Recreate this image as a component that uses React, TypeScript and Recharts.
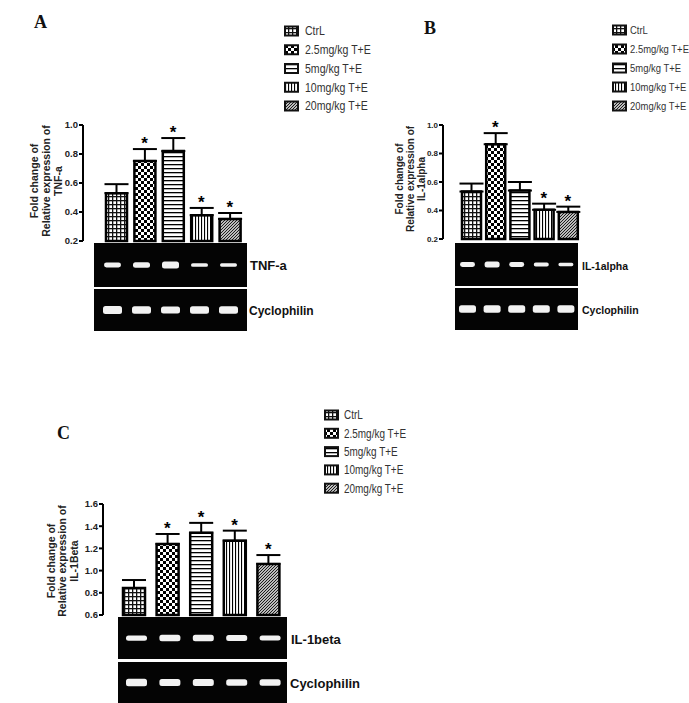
import React from 'react';
import { ComposedChart, BarChart, Bar, Line, XAxis, YAxis, ErrorBar, Cell } from 'recharts';

const groups = ['CtrL', '2.5mg/kg T+E', '5mg/kg T+E', '10mg/kg T+E', '20mg/kg T+E'];
const patternIds = ['pCtrl', 'p25', 'p5', 'p10', 'p20'];

const tnfMean = [0.53, 0.752, 0.82, 0.378, 0.352];
const tnfErr = [0.062, 0.082, 0.09, 0.05, 0.041];
const tnfSig = [false, true, true, true, true];
const tnfTicks = [0.2, 0.4, 0.6, 0.8, 1.0];

const il1aMean = [0.533, 0.865, 0.54, 0.405, 0.39];
const il1aErr = [0.056, 0.078, 0.06, 0.043, 0.037];
const il1aSig = [false, true, false, true, true];
const il1aTicks = [0.2, 0.4, 0.6, 0.8, 1.0];

const il1bMean = [0.843, 1.24, 1.34, 1.27, 1.06];
const il1bErr = [0.072, 0.09, 0.09, 0.09, 0.08];
const il1bSig = [false, true, true, true, true];
const il1bTicks = [0.6, 0.8, 1.0, 1.2, 1.4, 1.6];

// gel band intensities (relative band thickness)
const tnfBand = [0.45, 0.52, 0.65, 0.34, 0.3];
const tnfCyc = [0.75, 0.72, 0.68, 0.72, 0.7];
const il1aBand = [0.45, 0.55, 0.45, 0.36, 0.32];
const il1aCyc = [0.72, 0.7, 0.7, 0.7, 0.7];
const il1bBand = [0.5, 0.6, 0.62, 0.55, 0.48];
const il1bCyc = [0.72, 0.68, 0.68, 0.65, 0.65];

const SANS = "'Liberation Sans', Arial, sans-serif";
const SERIF = "'Liberation Serif', 'Times New Roman', serif";

function Patterns() {
  return (
    <svg width={0} height={0} style={{ position: 'absolute' }}>
      <defs>
        <pattern id="pCtrl" width={4} height={4} patternUnits="userSpaceOnUse">
          <rect width={4} height={4} fill="#fff" />
          <rect width={4} height={1.3} fill="#111" />
          <rect width={1.3} height={4} fill="#111" />
        </pattern>
        <pattern id="p25" width={6} height={6} patternUnits="userSpaceOnUse">
          <rect width={6} height={6} fill="#fff" />
          <rect width={3} height={3} fill="#000" />
          <rect x={3} y={3} width={3} height={3} fill="#000" />
        </pattern>
        <pattern id="p5" width={4} height={4} patternUnits="userSpaceOnUse">
          <rect width={4} height={4} fill="#fff" />
          <rect width={4} height={1.3} fill="#000" />
        </pattern>
        <pattern id="p10" width={3} height={3} patternUnits="userSpaceOnUse">
          <rect width={3} height={3} fill="#fff" />
          <rect width={1.1} height={3} fill="#000" />
        </pattern>
        <pattern id="p20" width={3} height={3} patternUnits="userSpaceOnUse">
          <rect width={3} height={3} fill="#fff" />
          <path d="M0,3 L3,0 M-1,1 L1,-1 M2,4 L4,2" stroke="#111" strokeWidth={1.1} />
        </pattern>
      </defs>
    </svg>
  );
}

const renderStar = (props: any) => {
  const { cx, cy, value, index } = props;
  if (value == null || cy == null || isNaN(cy)) return <g key={`s${index}`} />;
  return (
    <text key={`s${index}`} x={cx} y={cy} textAnchor="middle" fontSize={17} fontWeight="bold" fontFamily={SANS} fill="#000">
      *
    </text>
  );
};

function Panel(p: any) {
  const data = p.mean.map((m: number, i: number) => ({
    name: groups[i],
    mean: m,
    errRange: [0, p.err[i]],
    star: p.sig[i] ? m + p.err[i] : null,
  }));
  return (
    <div style={{ position: 'absolute', left: p.left, top: p.top }}>
      <ComposedChart width={p.width} height={p.height} data={data} margin={p.margin}>
        <XAxis dataKey="name" hide padding={{ left: p.padLeft, right: 0 }} />
        <YAxis
          type="number"
          domain={[p.ticks[0], p.ticks[p.ticks.length - 1]]}
          ticks={p.ticks}
          interval={0}
          width={40}
          tickFormatter={(v: number) => v.toFixed(1)}
          axisLine={{ stroke: '#000', strokeWidth: 2 }}
          tickLine={{ stroke: '#000', strokeWidth: 2 }}
          tickSize={4}
          tickMargin={1}
          tick={{ fontSize: p.tickFont, fontWeight: 'bold', fill: '#222', fontFamily: SANS }}
        />
        <Bar dataKey="mean" barSize={p.barSize} stroke="#000" strokeWidth={2.5} isAnimationActive={false}>
          {data.map((d: any, i: number) => (
            <Cell key={i} fill={`url(#${patternIds[i]})`} />
          ))}
          <ErrorBar dataKey="errRange" direction="y" width={12} strokeWidth={2} stroke="#000" />
        </Bar>
        <Line dataKey="star" stroke="none" dot={renderStar} activeDot={false} isAnimationActive={false} legendType="none" />
      </ComposedChart>
    </div>
  );
}

function Gel(p: any) {
  const data = p.bands.map((v: number, i: number) => ({ name: groups[i], band: [-v, v] }));
  return (
    <div style={{ position: 'absolute', left: p.left, top: p.top, width: p.width, height: p.height, background: '#040404' }}>
      <BarChart width={p.width} height={p.height} data={data} margin={{ top: 0, bottom: 0, left: p.ml, right: p.mr }}>
        <XAxis dataKey="name" hide />
        <YAxis hide type="number" domain={[-4, 4]} />
        <Bar dataKey="band" barSize={p.bandSize} fill="#f2f2f2" radius={2.5} isAnimationActive={false} />
      </BarChart>
    </div>
  );
}

function LegendBlock({ x, y0, gap, fs, sx, dx }: any) {
  return (
    <g>
      {groups.map((g, i) => {
        const cy = y0 + i * gap;
        return (
          <g key={g}>
            <rect x={x} y={cy - 4.5} width={13} height={9} fill={`url(#${patternIds[i]})`} stroke="#111" strokeWidth={2} />
            <text transform={`translate(${x + 13 + dx}, ${cy + fs * 0.36}) scale(${sx},1)`} fontSize={fs} fontFamily={SANS} fill="#333">
              {g}
            </text>
          </g>
        );
      })}
    </g>
  );
}

function YLabel({ x, cy, lines, fs, gap }: any) {
  return (
    <g>
      {lines.map((t: string, i: number) => (
        <text
          key={t}
          transform={`translate(${x + i * gap + fs * 0.36}, ${cy}) rotate(-90)`}
          textAnchor="middle"
          fontSize={fs}
          fontWeight="bold"
          fontFamily={SANS}
          fill="#222"
        >
          {t}
        </text>
      ))}
    </g>
  );
}

export default function App() {
  return (
    <div style={{ position: 'absolute', left: 0, top: 0, width: 689, height: 703, background: '#fff', overflow: 'hidden' }}>
      <Patterns />
      <Panel left={0} top={100} width={260} height={150} margin={{ top: 25, right: 16, left: 43, bottom: 9 }}
        padLeft={19} mean={tnfMean} err={tnfErr} sig={tnfSig} ticks={tnfTicks} barSize={21} tickFont={9.5} />
      <Panel left={380} top={100} width={220} height={150} margin={{ top: 25, right: 20, left: 23, bottom: 11 }}
        padLeft={16} mean={il1aMean} err={il1aErr} sig={il1aSig} ticks={il1aTicks} barSize={19} tickFont={8} />
      <Panel left={40} top={480} width={270} height={150} margin={{ top: 24, right: 25, left: 23, bottom: 15 }}
        padLeft={14} mean={il1bMean} err={il1bErr} sig={il1bSig} ticks={il1bTicks} barSize={22} tickFont={9.5} />

      <Gel left={94} top={243} width={153} height={44} ml={4} mr={4} bands={tnfBand} bandSize={17} />
      <Gel left={94} top={289} width={153} height={42} ml={4} mr={4} bands={tnfCyc} bandSize={19} />
      <Gel left={455} top={243} width={123} height={43} ml={0} mr={0} bands={il1aBand} bandSize={15} />
      <Gel left={455} top={288} width={123} height={42} ml={0} mr={0} bands={il1aCyc} bandSize={17} />
      <Gel left={118} top={617} width={169} height={42} ml={2} mr={0} bands={il1bBand} bandSize={21} />
      <Gel left={118} top={662} width={169} height={41} ml={2} mr={0} bands={il1bCyc} bandSize={21} />

      <svg width={689} height={703} style={{ position: 'absolute', left: 0, top: 0, pointerEvents: 'none' }}>
        <text x={34} y={28} fontFamily={SERIF} fontWeight="bold" fontSize={18} fill="#111">A</text>
        <text x={424} y={34} fontFamily={SERIF} fontWeight="bold" fontSize={18} fill="#111">B</text>
        <text x={57} y={439} fontFamily={SERIF} fontWeight="bold" fontSize={18} fill="#111">C</text>

        <LegendBlock x={285} y0={31} gap={18.75} fs={12} sx={0.88} dx={7} />
        <LegendBlock x={613} y0={30} gap={19} fs={11} sx={0.86} dx={4} />
        <LegendBlock x={325} y0={415} gap={18.3} fs={12} sx={0.83} dx={6} />

        <YLabel x={34} cy={181} lines={['Fold change of', 'Relative expression of', 'TNF-a']} fs={10.5} gap={12} />
        <YLabel x={399} cy={179} lines={['Fold change of', 'Relative expression of', 'IL-1alpha']} fs={10} gap={11} />
        <YLabel x={51} cy={561} lines={['Fold change of', 'Relative expression of', 'IL-1Beta']} fs={10.5} gap={11.5} />

        <text x={250} y={270} fontFamily={SANS} fontWeight="bold" fontSize={13} fill="#111">TNF-a</text>
        <text x={249} y={315} fontFamily={SANS} fontWeight="bold" fontSize={12} fill="#111">Cyclophilin</text>
        <text x={582} y={270} fontFamily={SANS} fontWeight="bold" fontSize={10.5} fill="#111">IL-1alpha</text>
        <text x={582} y={314} fontFamily={SANS} fontWeight="bold" fontSize={10.5} fill="#111">Cyclophilin</text>
        <text x={291} y={644} fontFamily={SANS} fontWeight="bold" fontSize={13} fill="#111">IL-1beta</text>
        <text x={290} y={688} fontFamily={SANS} fontWeight="bold" fontSize={13} fill="#111">Cyclophilin</text>
      </svg>
    </div>
  );
}
